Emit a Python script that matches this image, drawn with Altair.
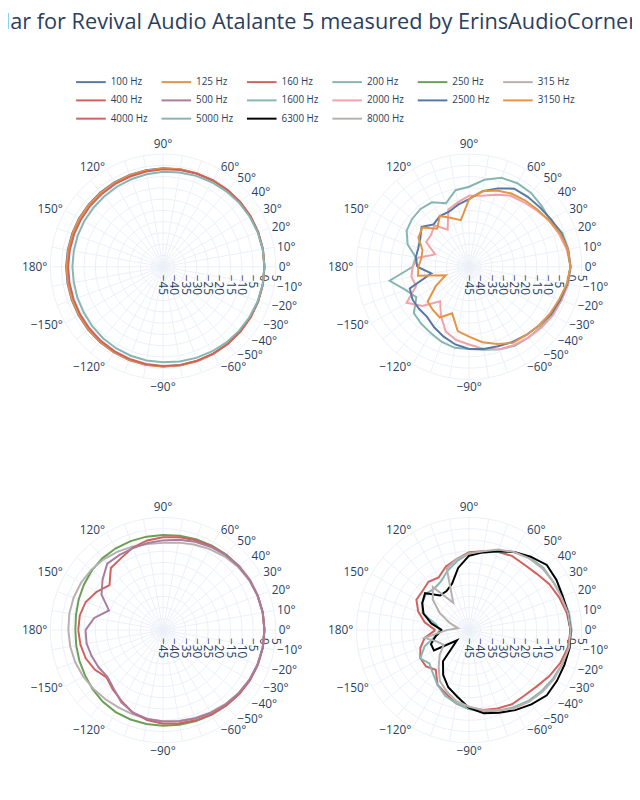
import altair as alt
import pandas as pd

TITLE = "Radar for Revival Audio Atalante 5 measured by ErinsAudioCorner"

# angles of the measurements, -180 .. 180 step 10
ANGLES = list(range(-180, 181, 10))

FREQS = ["100 Hz", "125 Hz", "160 Hz", "200 Hz", "250 Hz", "315 Hz",
         "400 Hz", "500 Hz", "1600 Hz", "2000 Hz", "2500 Hz", "3150 Hz",
         "4000 Hz", "5000 Hz", "6300 Hz", "8000 Hz"]
COLORS = ["#5778a4", "#e49444", "#d1615d", "#85b6b2", "#6a9f58", "#b8b0ac",
          "#d1615d", "#a87c9f", "#85b6b2", "#f1a2a9", "#5778a4", "#e49444",
          "#d1615d", "#85b6b2", "#000000", "#b8b0ac"]

# panels: top-left, top-right, bottom-left, bottom-right
PANELS = [["100 Hz", "125 Hz", "160 Hz", "200 Hz"],
          ["1600 Hz", "2000 Hz", "2500 Hz", "3150 Hz"],
          ["250 Hz", "315 Hz", "400 Hz", "500 Hz"],
          ["4000 Hz", "5000 Hz", "6300 Hz", "8000 Hz"]]

# dB values, angles -180..-100 | -90..-10 | 0..80 | 90..180
DB_100 = [-2.0, -2.0, -1.9, -1.8, -1.6, -1.4, -1.2, -1.0, -0.8,
          -0.7, -0.6, -0.5, -0.4, -0.3, -0.2, -0.1, -0.1, 0.0,
          0.0, 0.0, -0.1, -0.2, -0.3, -0.5, -0.7, -0.9, -1.1,
          -1.3, -1.5, -1.7, -1.8, -1.9, -2.0, -2.0, -2.1, -2.1, -2.0]
DB_125 = [-2.2, -2.2, -2.1, -2.0, -1.8, -1.6, -1.3, -1.1, -0.9,
          -0.7, -0.6, -0.5, -0.4, -0.3, -0.2, -0.1, -0.1, 0.0,
          0.0, 0.0, -0.1, -0.2, -0.3, -0.5, -0.7, -0.9, -1.1,
          -1.4, -1.6, -1.8, -2.0, -2.1, -2.2, -2.2, -2.3, -2.3, -2.2]
DB_160 = [-2.9, -2.9, -2.8, -2.6, -2.4, -2.1, -1.8, -1.5, -1.2,
          -1.0, -0.8, -0.7, -0.5, -0.4, -0.3, -0.2, -0.1, 0.0,
          0.0, 0.0, -0.1, -0.2, -0.4, -0.6, -0.8, -1.1, -1.4,
          -1.8, -2.1, -2.4, -2.6, -2.8, -2.9, -3.0, -3.0, -3.0, -2.9]
DB_200 = [-4.8, -4.8, -4.6, -4.4, -4.0, -3.6, -3.3, -3.0, -2.8,
          -2.6, -2.3, -2.0, -1.6, -1.2, -0.9, -0.6, -0.3, -0.1,
          0.0, -0.1, -0.3, -0.6, -0.9, -1.3, -1.7, -2.1, -2.5,
          -2.9, -3.3, -3.7, -4.0, -4.3, -4.5, -4.6, -4.7, -4.8, -4.8]
DB_250 = [-6.1, -5.9, -5.5, -5.0, -4.2, -3.5, -3.0, -2.8, -2.7,
          -2.6, -2.4, -2.1, -1.7, -1.3, -0.9, -0.5, -0.3, -0.1,
          0.0, -0.1, -0.3, -0.5, -0.9, -1.3, -1.7, -2.1, -2.5,
          -2.8, -2.9, -3.0, -3.1, -3.3, -3.8, -4.5, -5.2, -5.8, -6.1]
DB_315 = [-3.0, -3.2, -3.5, -4.0, -4.6, -5.1, -5.4, -5.3, -5.0,
          -4.6, -4.1, -3.5, -2.8, -2.1, -1.4, -0.8, -0.4, -0.1,
          0.0, -0.1, -0.4, -0.8, -1.5, -2.4, -3.5, -4.6, -5.6,
          -6.3, -6.2, -5.6, -4.8, -4.0, -3.4, -3.0, -2.8, -2.8, -3.0]
DB_400 = [-7.4, -7.8, -8.5, -10.0, -12.3, -10.5, -8.5, -6.0, -4.5,
          -3.5, -3.0, -2.4, -1.8, -1.3, -0.9, -0.5, -0.2, 0.0,
          0.0, 0.0, -0.3, -0.6, -1.0, -1.5, -2.0, -2.6, -3.2,
          -3.8, -4.6, -6.0, -8.0, -9.0, -14.0, -11.0, -8.5, -7.5, -7.4]
DB_500 = [-10.6, -10.6, -11.3, -12.0, -12.8, -11.0, -8.0, -6.0, -5.0,
          -4.5, -4.0, -3.3, -2.6, -1.9, -1.3, -0.8, -0.4, -0.1,
          0.0, -0.1, -0.3, -0.6, -1.0, -1.6, -2.4, -3.3, -4.3,
          -5.2, -5.8, -6.3, -6.5, -6.5, -10.0, -13.5, -19.5, -14.0, -10.6]
DB_1600 = [-20.0, -9.2, -15.0, -18.0, -13.0, -12.0, -11.0, -9.5, -8.5,
           -8.5, -7.6, -6.0, -4.5, -4.0, -3.5, -2.5, -1.4, -0.4,
           0.0, -0.3, -1.0, -3.5, -3.0, -2.2, -2.2, -3.0, -5.8,
           -9.5, -10.5, -15.0, -12.0, -11.5, -12.0, -13.0, -16.0, -21.0, -20.0]
DB_2000 = [-20.0, -19.0, -20.0, -13.0, -18.0, -25.0, -20.0, -14.5, -12.0,
           -10.5, -8.0, -6.0, -5.0, -4.0, -3.0, -2.0, -1.5, -0.5,
           0.0, -1.0, -2.5, -4.0, -6.0, -7.5, -8.5, -11.0, -13.0,
           -13.5, -16.0, -18.0, -26.0, -21.0, -23.0, -23.0, -29.0, -22.0, -20.0]
DB_2500 = [-22.0, -28.0, -17.0, -16.0, -16.0, -16.0, -14.0, -12.0, -10.0,
           -8.5, -8.0, -7.5, -6.5, -5.5, -4.5, -3.0, -2.0, -0.8,
           0.0, -0.5, -1.5, -3.0, -4.0, -4.5, -5.0, -8.0, -11.0,
           -15.0, -17.0, -19.0, -19.0, -20.5, -17.5, -20.0, -21.0, -21.0, -22.0]
DB_3150 = [-22.5, -22.0, -34.0, -28.0, -21.0, -20.0, -19.0, -23.0, -16.0,
           -14.0, -11.0, -8.5, -6.0, -5.5, -4.5, -3.5, -2.5, -1.0,
           0.0, -0.5, -2.0, -4.0, -5.5, -6.5, -7.5, -9.0, -11.0,
           -15.0, -24.0, -22.0, -19.0, -23.0, -18.0, -19.0, -23.0, -23.5, -22.5]
DB_4000 = [-30.0, -25.0, -22.0, -20.0, -20.0, -22.0, -17.0, -15.0, -12.0,
           -10.0, -9.0, -8.0, -7.0, -7.0, -6.0, -4.0, -2.0, -0.5,
           0.0, -1.0, -2.5, -4.0, -6.0, -7.0, -7.0, -8.0, -9.5,
           -10.5, -13.0, -15.0, -18.0, -17.0, -18.0, -18.0, -21.0, -25.0, -30.0]
DB_5000 = [-32.0, -30.0, -24.0, -20.0, -22.0, -20.0, -17.0, -14.0, -12.0,
           -10.0, -8.0, -7.0, -5.5, -4.0, -3.0, -2.0, -1.0, 0.0,
           0.5, 0.0, -1.0, -2.0, -2.0, -3.0, -5.0, -8.0, -10.0,
           -11.0, -14.0, -17.0, -20.0, -21.0, -20.0, -21.0, -23.0, -30.0, -32.0]
DB_6300 = [-33.0, -30.0, -27.0, -27.0, -38.0, -27.0, -22.0, -18.0, -15.0,
           -10.5, -7.5, -6.0, -4.0, -2.0, 0.0, 0.0, 0.0, 0.3,
           0.0, -0.5, -0.8, -0.3, 0.0, -2.5, -5.0, -7.8, -10.0,
           -12.0, -17.0, -23.0, -25.0, -25.0, -19.5, -21.0, -23.5, -28.0, -33.0]
DB_8000 = [-35.0, -25.0, -30.0, -32.0, -28.0, -24.0, -19.0, -16.0, -13.0,
           -11.0, -9.0, -7.0, -5.0, -3.5, -2.5, -1.5, -1.0, 0.0,
           0.0, -0.5, -1.5, -2.0, -2.5, -3.5, -5.0, -7.0, -9.5,
           -11.0, -13.0, -16.0, -31.0, -20.0, -24.0, -30.0, -36.0, -40.0, -35.0]

SERIES = {"100 Hz": DB_100, "125 Hz": DB_125, "160 Hz": DB_160, "200 Hz": DB_200,
          "250 Hz": DB_250, "315 Hz": DB_315, "400 Hz": DB_400, "500 Hz": DB_500,
          "1600 Hz": DB_1600, "2000 Hz": DB_2000, "2500 Hz": DB_2500, "3150 Hz": DB_3150,
          "4000 Hz": DB_4000, "5000 Hz": DB_5000, "6300 Hz": DB_6300, "8000 Hz": DB_8000}

RADIAL_TICKS = [-45, -40, -35, -30, -25, -20, -15, -10, -5, 0, 5]
ANGULAR_TICKS = [0, 10, 20, 30, 40, 50, 60, 90, 120, 150, 180,
                 -150, -120, -90, -60, -50, -40, -30, -20, -10]
SPOKES = list(range(0, 360, 10))
RING_STEPS = list(range(0, 361, 5))   # vertices used to trace each grid circle

# ---- layout (pixels) ----
W, H = 632, 792
PANEL_CX = [157, 467]
PANEL_CY = [257, 625]
K = 2.283            # pixels per dB
R_MIN = -45          # radial range minimum (centre)
R_MAX = 5
R_OUT = (R_MAX - R_MIN) * K
LABEL_R = R_OUT + 3
GRID = "#ebf0f8"
INK = "#2a3f5f"
FONT = "Open Sans"


def minus(v):
    return ("\u2212" if v < 0 else "") + str(abs(v))


def centre(p):
    return PANEL_CX[p % 2], PANEL_CY[p // 2]


series_rows, spoke_rows, ring_rows, rlab_rows, alab_rows = [], [], [], [], []
for p, freqs in enumerate(PANELS):
    cx, cy = centre(p)
    for f in freqs:
        for i, (a, v) in enumerate(zip(ANGLES, SERIES[f])):
            series_rows.append(dict(freq=f, angle=a, db=v, idx=i, cx=cx, cy=cy))
    for a in SPOKES:
        spoke_rows.append(dict(angle=a, cx=cx, cy=cy))
    for t in RADIAL_TICKS:
        rlab_rows.append(dict(tick=t, label=minus(t), cx=cx, cy=cy))
        if t > R_MIN:
            for a in RING_STEPS:
                ring_rows.append(dict(ring=f"{p}_{t}", tick=t, angle=a, cx=cx, cy=cy))
    for a in ANGULAR_TICKS:
        alab_rows.append(dict(angle=a, label=minus(a) + "\u00b0", cx=cx, cy=cy))

series_df = pd.DataFrame(series_rows)
spoke_df = pd.DataFrame(spoke_rows)
ring_df = pd.DataFrame(ring_rows)
rlab_df = pd.DataFrame(rlab_rows)
alab_df = pd.DataFrame(alab_rows)

xs = alt.Scale(domain=[0, W], nice=False, zero=False)
ys = alt.Scale(domain=[0, H], nice=False, zero=False, reverse=True)


def X(f):
    return alt.X(f, scale=xs, axis=None)


def Y(f):
    return alt.Y(f, scale=ys, axis=None)


COS = "cos(datum.angle * PI / 180)"
SIN = "sin(datum.angle * PI / 180)"

spokes = alt.Chart(spoke_df).transform_calculate(
    x2=f"datum.cx + {R_OUT} * {COS}",
    y2=f"datum.cy - {R_OUT} * {SIN}",
).mark_rule(color=GRID, strokeWidth=1).encode(
    x=X("cx:Q"), y=Y("cy:Q"), x2="x2:Q", y2="y2:Q"
)

rings = alt.Chart(ring_df).transform_calculate(
    rp=f"(datum.tick - ({R_MIN})) * {K}",
    gx=f"datum.cx + datum.rp * {COS}",
    gy=f"datum.cy - datum.rp * {SIN}",
).mark_line(color=GRID, strokeWidth=1).encode(
    x=X("gx:Q"), y=Y("gy:Q"), detail="ring:N", order="angle:Q"
)

radial_labels = alt.Chart(rlab_df).transform_calculate(
    lx=f"datum.cx + (datum.tick - ({R_MIN})) * {K}"
).mark_text(angle=90, align="left", baseline="middle", dx=8,
            font=FONT, fontSize=12, color=INK).encode(
    x=X("lx:Q"), y=Y("cy:Q"), text="label:N"
)

alab_base = alt.Chart(alab_df).transform_calculate(
    lx=f"datum.cx + {LABEL_R} * {COS}",
    ly=f"datum.cy - {LABEL_R} * {SIN}",
    side=f"{COS} > 0.35 ? 'r' : ({COS} < -0.35 ? 'l' : ({SIN} > 0 ? 't' : 'b'))",
)


def alab(side, align, baseline):
    return alab_base.transform_filter(f"datum.side == '{side}'").mark_text(
        align=align, baseline=baseline, font=FONT, fontSize=12, color=INK
    ).encode(x=X("lx:Q"), y=Y("ly:Q"), text="label:N")


angular_labels = alt.layer(
    alab("r", "left", "middle"), alab("l", "right", "middle"),
    alab("t", "center", "bottom"), alab("b", "center", "top"),
)

lines = alt.Chart(series_df).transform_calculate(
    r=f"max(datum.db - ({R_MIN}), 0) * {K}",
    px=f"datum.cx + datum.r * {COS}",
    py=f"datum.cy - datum.r * {SIN}",
).mark_line(strokeWidth=2).encode(
    x=X("px:Q"), y=Y("py:Q"),
    order="idx:Q",
    color=alt.Color(
        "freq:N",
        scale=alt.Scale(domain=FREQS, range=COLORS),
        legend=alt.Legend(
            title=None, orient="none", legendX=69, legendY=64, columns=6,
            direction="horizontal", values=FREQS,
            symbolType="M-3,0H3", symbolSize=100, symbolStrokeWidth=2,
            symbolOffset=9, labelOffset=14, labelFontSize=10, labelFont=FONT,
            labelColor=INK, columnPadding=9.5, rowPadding=7.5, gridAlign="all",
            padding=0,
        ),
    ),
)

chart = alt.layer(spokes, rings, radial_labels, angular_labels, lines).properties(
    width=W, height=H,
    autosize=alt.AutoSizeParams(type="none"),
    padding=0,
    background="white",
    title=alt.TitleParams(TITLE, fontSize=22, font=FONT, color=INK, fontWeight="normal",
                          anchor="middle", offset=-43, baseline="bottom", dx=-16),
).configure_view(stroke=None)

chart.save("out.html", embed_options={"renderer": "svg", "actions": False})
